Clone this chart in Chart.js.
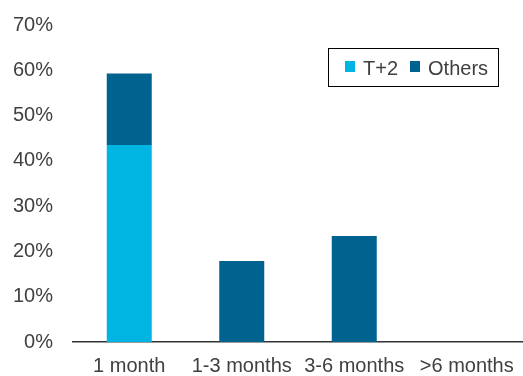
<!DOCTYPE html>
<html>
<head>
<meta charset="utf-8">
<script src="https://cdn.jsdelivr.net/npm/chart.js@4"></script>
<style>
  body { margin: 0; background: #fff; }
</style>
</head>
<body>
<canvas id="chart" width="523" height="376"></canvas>
<script>
// Categories and series values (in %)
const categories = ["1 month", "1-3 months", "3-6 months", ">6 months"];
const tPlus2 = [43.5, 0, 0, 0];
const others = [15.8, 17.9, 23.4, 0];
const yTicks = [0, 10, 20, 30, 40, 50, 60, 70];

const textColor = "#404040";
const fontFamily = "'Liberation Sans', Arial, sans-serif";

// Draws the boxed legend inside the plot area
const boxedLegend = {
    id: "boxedLegend",
    afterDraw(chart) {
        const ctx = chart.ctx;
        const x0 = 328.5, y0 = 48.5, w = 170, h = 38;
        ctx.save();
        ctx.strokeStyle = "#000";
        ctx.lineWidth = 1;
        ctx.strokeRect(x0, y0, w, h);
        ctx.font = "20px " + fontFamily;
        ctx.textBaseline = "alphabetic";
        let x = x0 + 16.5;
        chart.data.datasets.forEach((ds) => {
            ctx.fillStyle = ds.backgroundColor;
            ctx.fillRect(x, 61, 10, 11);
            x += 18;
            ctx.fillStyle = textColor;
            ctx.fillText(ds.label, x, 75);
            x += ctx.measureText(ds.label).width + 12;
        });
        ctx.restore();
    },
};

new Chart(document.getElementById("chart"), {
    type: "bar",
    plugins: [boxedLegend],
    data: {
        labels: categories,
        datasets: [
            { label: "T+2", data: tPlus2, backgroundColor: "#00B5E2" },
            { label: "Others", data: others, backgroundColor: "#00628F" },
        ],
    },
    options: {
        responsive: false,
        animation: false,
        layout: { padding: { top: 25, right: -4, left: 12, bottom: 0 } },
        plugins: {
            legend: { display: false },
            tooltip: { enabled: false },
        },
        datasets: {
            bar: { categoryPercentage: 1, barPercentage: 0.4 },
        },
        scales: {
            x: {
                stacked: true,
                grid: { display: false, drawTicks: false },
                border: { display: true, color: "#333", width: 1.5 },
                afterFit: (scale) => {
                    scale.height = 34;
                    scale.paddingLeft = 0;
                    scale.paddingRight = 0;
                },
                ticks: {
                    color: textColor,
                    font: { size: 20, family: fontFamily },
                    maxRotation: 0,
                    autoSkip: false,
                    padding: 12,
                },
            },
            y: {
                stacked: true,
                min: 0,
                max: 70,
                afterBuildTicks: (axis) => {
                    axis.ticks = yTicks.map((v) => ({ value: v }));
                },
                afterFit: (scale) => {
                    scale.width = 61;
                    scale.paddingTop = 0;
                    scale.paddingBottom = 0;
                },
                grid: { display: false, drawTicks: false },
                border: { display: false },
                ticks: {
                    color: textColor,
                    font: { size: 20, family: fontFamily },
                    padding: 20,
                    callback: (v) => v + "%",
                },
            },
        },
    },
});
</script>
</body>
</html>
